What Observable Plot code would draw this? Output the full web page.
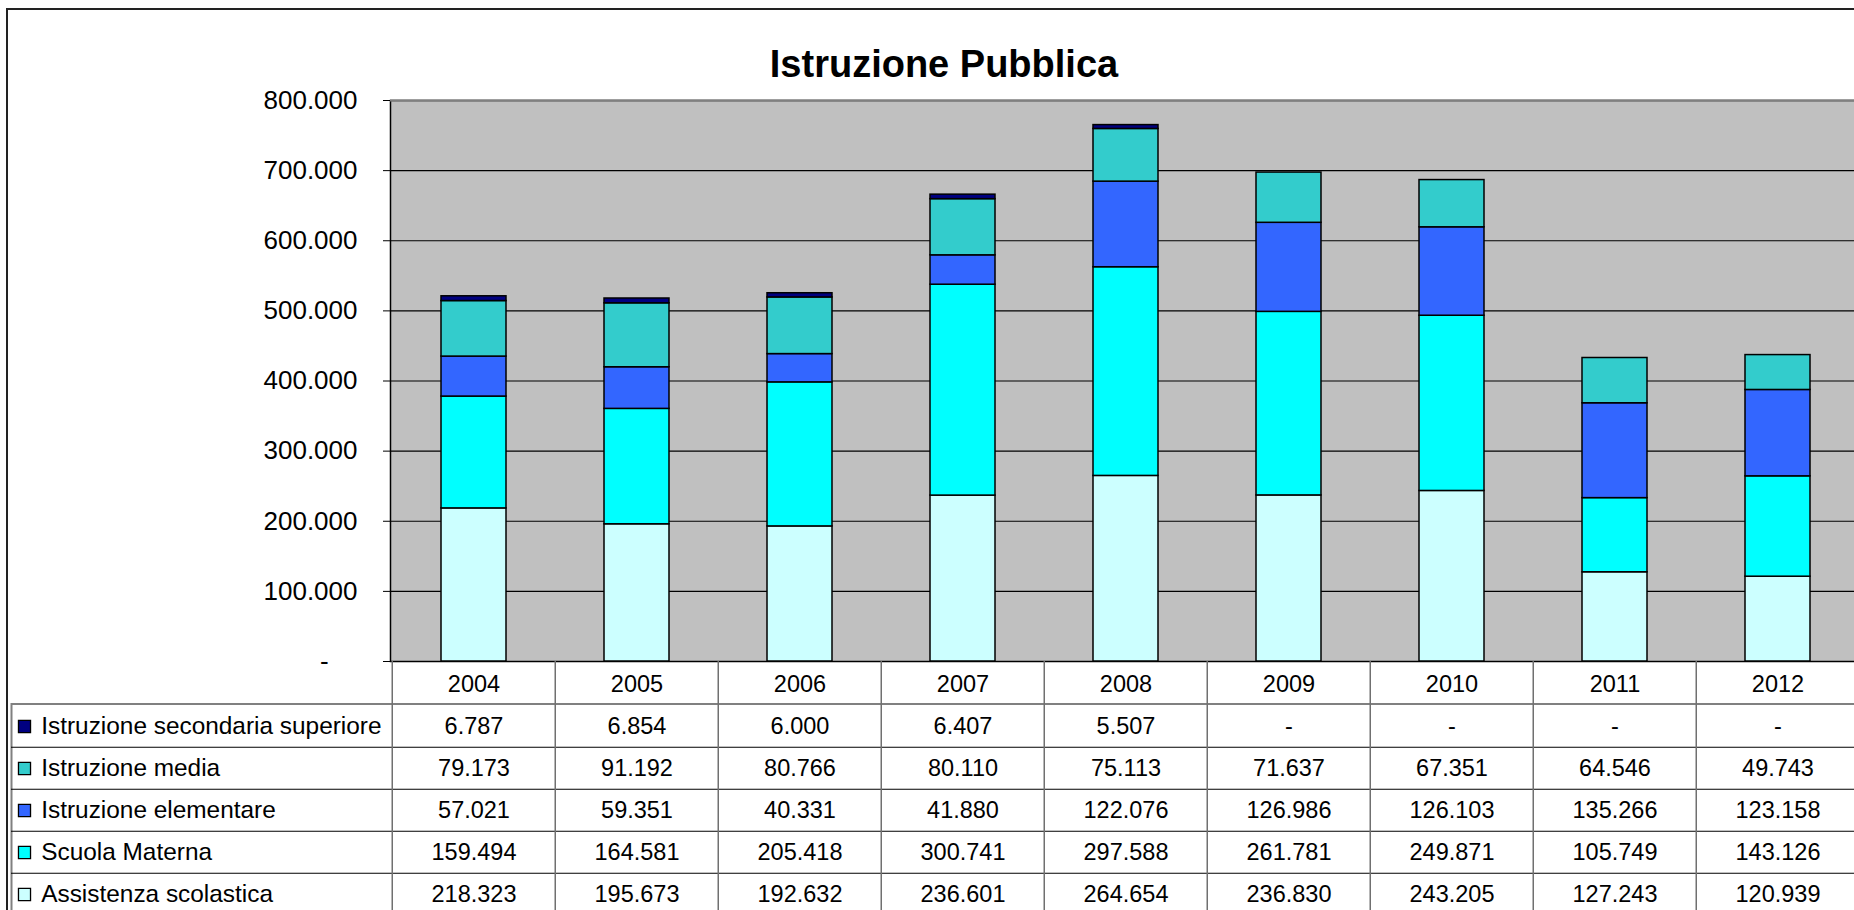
<!DOCTYPE html>
<html><head><meta charset="utf-8">
<script src="https://cdn.jsdelivr.net/npm/d3@7"></script>
<script src="https://cdn.jsdelivr.net/npm/@observablehq/plot@0.6"></script>
<style>
html,body{margin:0;padding:0;background:#fff;overflow:hidden;}
#wrap{position:relative;width:1854px;height:910px;overflow:hidden;font-family:"Liberation Sans",Arial,sans-serif;}
#border{position:absolute;left:6px;top:8px;width:1950px;height:1000px;border:2px solid #222;box-sizing:border-box;}
#title{position:absolute;left:0;width:1888px;top:45px;text-align:center;font-size:38px;line-height:38px;font-weight:bold;color:#000;}
#chart{position:absolute;left:0;top:0;width:1880px;}
#table{position:absolute;left:0;top:661px;width:1880px;}
</style></head><body>
<div id="wrap"><div id="border"></div><div id="chart"></div><div id="table"></div><div id="title">Istruzione Pubblica</div></div>
<script>
const years = ["2004","2005","2006","2007","2008","2009","2010","2011","2012"];
const seriesNames = ["Assistenza scolastica","Scuola Materna","Istruzione elementare","Istruzione media","Istruzione secondaria superiore"];
const seriesColors = ["#CCFFFF","#00FFFF","#3366FF","#33CCCC","#000080"];
const assistenza = [218323,195673,192632,236601,264654,236830,243205,127243,120939];
const materna = [159494,164581,205418,300741,297588,261781,249871,105749,143126];
const elementare = [57021,59351,40331,41880,122076,126986,126103,135266,123158];
const media = [79173,91192,80766,80110,75113,71637,67351,64546,49743];
const secondaria = [6787,6854,6000,6407,5507,null,null,null,null];
const yTicks = [0,100000,200000,300000,400000,500000,600000,700000,800000];

const seriesValues = [assistenza, materna, elementare, media, secondaria];
const fmt = d3.formatLocale({decimal: ",", thousands: ".", grouping: [3], currency: ["", ""]}).format(",d");
const FONT = "'Liberation Sans', Arial, sans-serif";
const W = 1880, ML = 390, MR = 18.5;

const rows = [];
seriesNames.forEach((s, k) => years.forEach((y, i) => {
  const v = seriesValues[k][i];
  if (v != null) rows.push({year: y, series: s, value: v});
}));
const cells = [];
seriesNames.forEach((s, k) => years.forEach((y, i) => cells.push({year: y, series: s, value: seriesValues[k][i]})));

const chart = Plot.plot({
  width: W, height: 661, marginTop: 100, marginBottom: 0, marginLeft: ML, marginRight: MR,
  style: {fontFamily: FONT, background: "transparent", color: "#000", maxWidth: "none", overflow: "visible"},
  x: {domain: years, type: "band", paddingInner: 0.6, paddingOuter: 0.3, axis: null, label: null},
  y: {domain: [0, 800000], axis: null, label: null},
  color: {domain: seriesNames, range: seriesColors},
  marks: [
    Plot.frame({fill: "#c0c0c0", stroke: "#000", strokeWidth: 1.5}),
    Plot.ruleY(yTicks.filter(t => t > 0 && t < 800000), {stroke: "#000", strokeWidth: 1.2}),
    Plot.ruleY([800000], {stroke: "#808080", strokeWidth: 2}),
    Plot.axisY(yTicks, {tickSize: 7, tickPadding: 26, fontSize: 26, label: null,
      tickFormat: d => d === 0 ? "-\u00a0\u00a0\u00a0\u00a0" : fmt(d)}),
    Plot.barY(rows, {x: "year", y: "value", fill: "series", stroke: "#000", strokeWidth: 1.5})
  ]
});
document.getElementById("chart").appendChild(chart);

const tableOrder = [...seriesNames].reverse();
const TH = 255;
const bw = TH / (tableOrder.length + 1);
const step = (W - ML - MR) / years.length;
const table = Plot.plot({
  width: W, height: TH, marginTop: 0, marginBottom: 0, marginLeft: ML, marginRight: MR,
  style: {fontFamily: FONT, background: "transparent", color: "#000", maxWidth: "none", overflow: "visible"},
  x: {domain: years, type: "band", padding: 0, axis: null, label: null},
  y: {domain: ["header", ...tableOrder], type: "band", padding: 0, axis: null, label: null},
  color: {domain: seriesNames, range: seriesColors},
  marks: [
    Plot.frame({insetLeft: -(ML - 11), insetTop: bw, fill: "none", stroke: "#808080", strokeWidth: 2}),
    Plot.ruleY(tableOrder.slice(1), {y: d => d, dy: -bw / 2, insetLeft: -(ML - 11), stroke: "#000", strokeWidth: 1.2}),
    Plot.ruleX(years, {x: d => d, dx: -step / 2, stroke: "#707070", strokeWidth: 1.5}),
    Plot.text(years, {x: d => d, y: () => "header", text: d => d, fontSize: 23.5, fill: "#000"}),
    Plot.text(cells, {x: "year", y: "series", text: d => d.value == null ? "-" : fmt(d.value), fontSize: 23.5, fill: "#000"}),
    Plot.text(tableOrder, {y: d => d, frameAnchor: "left", dx: -(ML - 40.7), textAnchor: "start", text: d => d, fontSize: 24.4, fill: "#000"}),
    Plot.dot(tableOrder, {y: d => d, frameAnchor: "left", dx: -(ML - 24), symbol: "square", r: 6.8, fill: d => d, stroke: "#000", strokeWidth: 1.3})
  ]
});
document.getElementById("table").appendChild(table);
</script>
</body></html>
